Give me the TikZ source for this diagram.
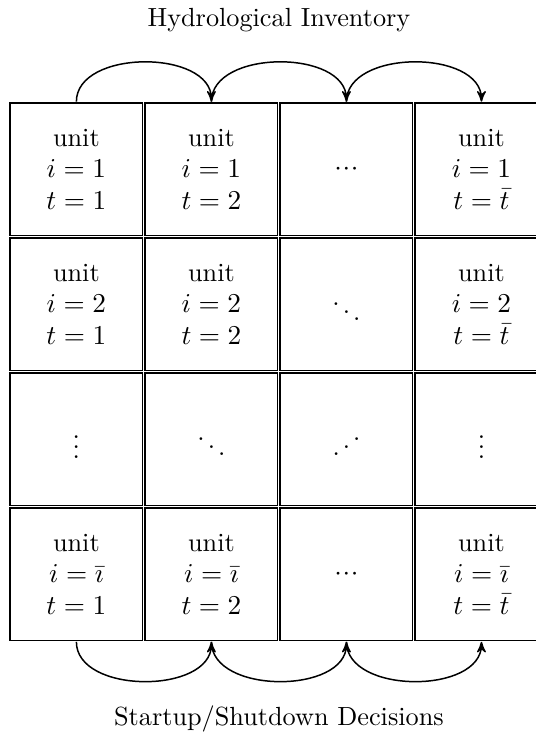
\documentclass[tikz,border=0pt]{standalone}
\usepackage{amsmath,amssymb}
\usepackage{graphicx}
\usepackage{tikz}
\usetikzlibrary{positioning,arrows,calc}

\newcommand{\middots}{$\cdotp\mkern-2.5mu\cdotp\mkern-2.5mu\cdotp$}

\begin{document}
\begin{tikzpicture}[every node/.style={font=\fontsize{10.55pt}{12.66pt}\selectfont},
	cell/.style={draw, semithick, minimum size=1.872cm, outer sep=0.5pt, align=center, inner sep=0pt},
	flow/.style={-stealth', semithick}]
	\useasboundingbox (-30.7pt,68pt) rectangle (184.7pt,-229.8pt);
	% first row
	\node[cell] (u11) at (0,0) {unit\\ $i=1$\\ $t=1$};
	\node[cell, right=0pt of u11] (u12) {unit\\ $i=1$\\ $t=2$};
	\node[cell, right=0pt of u12] (u13) {\middots};
	\node[cell, right=0pt of u13] (u14) {unit\\ $i=1$\\ $t=\bar{t}$};
	% second row
	\node[cell, below=0pt of u11] (u21) {unit\\ $i=2$\\ $t=1$};
	\node[cell, right=0pt of u21] (u22) {unit\\ $i=2$\\ $t=2$};
	\node[cell, right=0pt of u22] (u23) {$\ddots$};
	\node[cell, right=0pt of u23] (u24) {unit\\ $i=2$\\ $t=\bar{t}$};
	% third row
	\node[cell, below=0pt of u21] (u31) {$\vdots$};
	\node[cell, right=0pt of u31] (u32) {$\ddots$};
	\node[cell, right=0pt of u32] (u33) {\reflectbox{$\ddots$}};
	\node[cell, right=0pt of u33] (u34) {$\vdots$};
	% last row
	\node[cell, below=0pt of u31] (u41) {unit\\ $i=\bar{\imath}$\\ $t=1$};
	\node[cell, right=0pt of u41] (u42) {unit\\ $i=\bar{\imath}$\\ $t=2$};
	\node[cell, right=0pt of u42] (u43) {\middots};
	\node[cell, right=0pt of u43] (u44) {unit\\ $i=\bar{\imath}$\\ $t=\bar{t}$};
	% titles
	\coordinate (topmid) at ($(u12.north east)!0.5!(u13.north west)$);
	\coordinate (botmid) at ($(u42.south east)!0.5!(u43.south west)$);
	\node[above=0.86cm of topmid] (inv) {Hydrological Inventory};
	\node[below=0.78cm of botmid] (dec) {Startup/Shutdown Decisions};
	% links along time
	\draw[flow] (u11.north) to[out=90, in=90] (u12.north);
	\draw[flow] (u12.north) to[out=90, in=90] (u13.north);
	\draw[flow] (u13.north) to[out=90, in=90] (u14.north);
	\draw[flow] (u41.south) to[out=-90, in=-90] (u42.south);
	\draw[flow] (u42.south) to[out=-90, in=-90] (u43.south);
	\draw[flow] (u43.south) to[out=-90, in=-90] (u44.south);
\end{tikzpicture}
\end{document}
